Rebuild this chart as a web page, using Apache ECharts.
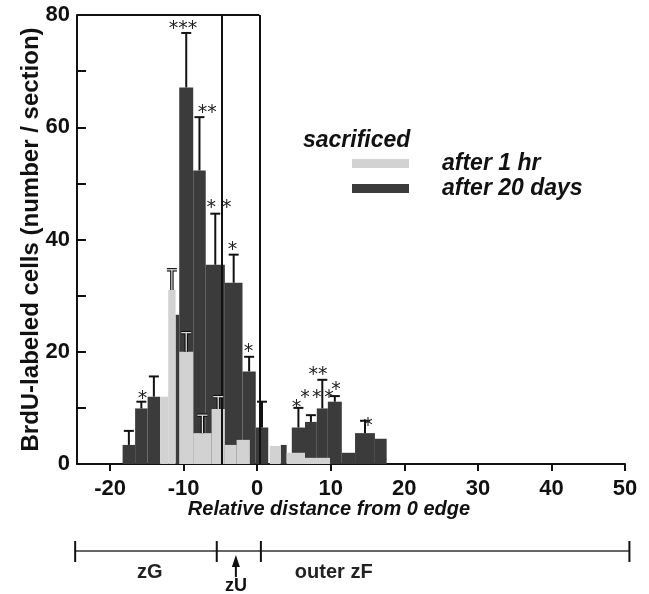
<!DOCTYPE html>
<html>
<head>
<meta charset="utf-8">
<script src="https://cdn.jsdelivr.net/npm/echarts@6/dist/echarts.min.js"></script>
<style>
  html, body { margin: 0; padding: 0; background: #fff; }
  #chart { width: 649px; height: 594px; }
</style>
</head>
<body>
<div id="chart"></div>
<script>
// histogram bins: bin start, bin end, height, error-bar top
const darkStart = [-18.3, -16.6, -14.9, -11.1, -10.6, -8.7, -7.0, -4.4, -2.0, -0.2, 3.2, 4.7, 6.5, 8.1, 9.6, 11.5, 13.3, 16.0];
const darkEnd   = [-16.6, -14.9, -13.2, -10.6, -8.7, -7.0, -4.4, -2.0, -0.2, 1.5, 4.0, 6.5, 8.1, 9.6, 11.5, 13.3, 16.0, 17.6];
const darkVal   = [3.4, 9.9, 12.0, 26.6, 67.1, 52.3, 35.5, 32.3, 16.5, 6.5, 3.4, 6.5, 7.5, 9.9, 11.1, 2.0, 5.5, 4.5];
const darkErr   = [5.9, 11.1, 15.6, null, 76.8, 61.8, 44.6, 37.3, 19.1, 11.1, null, 10.0, 8.7, 15.0, 12.1, null, 7.7, null];

const lightStart = [-13.2, -12.1, -10.6, -8.7, -6.2, -4.4, -2.8, 1.7, 4.0, 6.5];
const lightEnd   = [-12.1, -11.1, -8.7, -6.2, -4.4, -2.8, -1.0, 3.2, 6.5, 9.9];
const lightVal   = [12.0, 31.0, 20.0, 5.5, 9.8, 3.4, 4.3, 3.2, 2.0, 1.1];
const lightErr   = [null, 34.6, 23.4, 8.7, 12.0, null, null, null, null, null];

// significance marks
const starX    = [-10.1, -6.8, -5.2, -3.35, -1.2, -15.6, 5.35, 6.5, 8.1, 9.75, 8.25, 10.7, 15.05];
const starY    = [78.3, 63.5, 46.5, 39.0, 20.9, 12.5, 10.9, 12.7, 12.7, 12.7, 16.8, 14.1, 7.7];
const starText = ['***', '**', '* *', '*', '*', '*', '*', '*', '*', '*', '**', '*', '*'];

const xTicks = [-20, -10, 0, 10, 20, 30, 40, 50];
const boundaryX = [-4.8, 0.3];          // vertical lines in the plot
const zoneEdges = [-24.75, -5.5, 0.5, 50.6];
const zoneNames = ['zG', 'outer zF'];
const zoneNameX = [-14.6, 10.4];
const zUX = -2.9;

const FONT = "'Liberation Sans', Arial, sans-serif";
const DARK = '#3b3b3b';
const LIGHT = '#d2d2d2';

const chart = echarts.init(document.getElementById('chart'));

function bins(s, e, v) { return s.map((x, i) => [x, e[i], v[i]]); }
function errs(s, e, v, err) {
  const out = [];
  s.forEach((x, i) => { if (err[i] != null) out.push([(x + e[i]) / 2, v[i], err[i]]); });
  return out;
}

function renderBar(params, api) {
  const a = api.coord([api.value(0), 0]);
  const b = api.coord([api.value(1), api.value(2)]);
  return {
    type: 'rect',
    shape: { x: a[0], y: b[1], width: b[0] - a[0], height: a[1] - b[1] },
    style: { fill: api.visual('color') }
  };
}

function errRenderer(color, outline) {
  return function (params, api) {
    const lo = api.coord([api.value(0), api.value(1)]);
    const hi = api.coord([api.value(0), api.value(2)]);
    const segs = [[[lo[0], lo[1]], [hi[0], hi[1]]], [[hi[0] - 5, hi[1]], [hi[0] + 5, hi[1]]]];
    const children = [];
    if (outline) segs.forEach(p => children.push({ type: 'polyline', shape: { points: p }, style: { stroke: '#111', lineWidth: 3.5, fill: null } }));
    segs.forEach(p => children.push({ type: 'polyline', shape: { points: p }, style: { stroke: color, lineWidth: outline ? 1.2 : 2, fill: null } }));
    return { type: 'group', children: children };
  };
}

chart.setOption({
  animation: false,
  backgroundColor: '#fff',
  grid: { left: 77, right: 24, top: 15, bottom: 130 },
  legend: {
    data: ['after 1 hr', 'after 20 days'],
    orient: 'vertical',
    left: 352, top: 152,
    itemWidth: 57, itemHeight: 9, itemGap: 2,
    icon: 'rect',
    padding: 0,
    selectedMode: false,
    textStyle: { fontFamily: FONT, fontSize: 23, fontWeight: 'bold', fontStyle: 'italic', color: '#111', padding: [0, 0, 0, 28] }
  },
  xAxis: {
    type: 'value', min: -24.5, max: 50,
    axisLine: { show: true, onZero: false, lineStyle: { color: '#111', width: 2 } },
    axisTick: { show: true, length: 7, customValues: xTicks, lineStyle: { color: '#111', width: 2 } },
    axisLabel: { customValues: xTicks, margin: 14, fontFamily: FONT, fontSize: 22, fontWeight: 'bold', color: '#111' },
    splitLine: { show: false }
  },
  yAxis: {
    type: 'value', min: 0, max: 80, interval: 10,
    name: 'BrdU-labeled cells (number / section)',
    nameLocation: 'middle', nameGap: 34, nameMoveOverlap: false,
    nameTextStyle: { fontFamily: FONT, fontSize: 24, fontWeight: 'bold', color: '#111' },
    axisLine: { show: true, onZero: false, lineStyle: { color: '#111', width: 2 } },
    axisTick: { inside: true, length: 9, lineStyle: { color: '#111', width: 2 } },
    axisLabel: {
      margin: 7, fontFamily: FONT, fontSize: 22, fontWeight: 'bold', color: '#111',
      formatter: v => (v % 20 === 0 ? String(v) : '')
    },
    splitLine: { show: false }
  },
  series: [
    {
      name: 'after 20 days', type: 'custom', renderItem: renderBar,
      itemStyle: { color: DARK },
      encode: { x: [0, 1], y: 2 },
      data: bins(darkStart, darkEnd, darkVal), z: 2
    },
    {
      name: 'err20', type: 'custom', renderItem: errRenderer('#111', false),
      encode: { x: 0, y: [1, 2] },
      data: errs(darkStart, darkEnd, darkVal, darkErr), z: 3
    },
    {
      name: 'after 1 hr', type: 'custom', renderItem: renderBar,
      itemStyle: { color: LIGHT },
      encode: { x: [0, 1], y: 2 },
      data: bins(lightStart, lightEnd, lightVal), z: 4
    },
    {
      name: 'err1', type: 'custom', renderItem: errRenderer('#e8e8e8', true),
      encode: { x: 0, y: [1, 2] },
      data: errs(lightStart, lightEnd, lightVal, lightErr), z: 5,
      markLine: {
        silent: true, symbol: 'none', label: { show: false },
        lineStyle: { color: '#111', width: 2, type: 'solid' },
        data: boundaryX.map(x => ({ xAxis: x })).concat([[{ coord: [-24.5, 80] }, { coord: [boundaryX[1], 80] }]])
      }
    },
    {
      name: 'stars', type: 'custom',
      encode: { x: 0, y: 1 },
      data: starX.map((x, i) => [x, starY[i]]), z: 6,
      renderItem: function (params, api) {
        const p = api.coord([api.value(0), api.value(1)]);
        return {
          type: 'text', x: p[0], y: p[1] + 5,
          style: { text: starText[params.dataIndex], fontFamily: "'DejaVu Sans', sans-serif", fontSize: 19, fill: '#222', align: 'center', verticalAlign: 'middle' }
        };
      }
    }
  ]
});

// annotations below the axis: zone bar and titles
const px = x => chart.convertToPixel({ xAxisIndex: 0 }, x);
const zoneY = 551;
const g = [];
g.push({ type: 'text', x: 303, y: 141, style: { text: 'sacrificed', fontFamily: FONT, fontSize: 23, fontWeight: 'bold', fontStyle: 'italic', fill: '#111', verticalAlign: 'middle' } });
g.push({ type: 'text', x: 329, y: 509, style: { text: 'Relative distance from 0 edge', fontFamily: FONT, fontSize: 20, fontWeight: 'bold', fontStyle: 'italic', fill: '#111', align: 'center', verticalAlign: 'middle' } });
g.push({ type: 'line', shape: { x1: px(zoneEdges[0]), y1: zoneY, x2: px(zoneEdges[3]), y2: zoneY }, style: { stroke: '#333', lineWidth: 1.5 } });
zoneEdges.forEach(z => g.push({ type: 'line', shape: { x1: px(z), y1: zoneY - 10, x2: px(z), y2: zoneY + 11 }, style: { stroke: '#111', lineWidth: 2 } }));
zoneNames.forEach((n, i) => g.push({ type: 'text', x: px(zoneNameX[i]), y: 572, style: { text: n, fontFamily: FONT, fontSize: 20, fontWeight: 'bold', fill: '#222', align: 'center', verticalAlign: 'middle' } }));
const ax = px(zUX);
g.push({ type: 'line', shape: { x1: ax, y1: 562, x2: ax, y2: 577 }, style: { stroke: '#111', lineWidth: 2 } });
g.push({ type: 'polygon', shape: { points: [[ax, 555], [ax - 4, 567], [ax + 4, 567]] }, style: { fill: '#111' } });
g.push({ type: 'text', x: ax, y: 586, style: { text: 'zU', fontFamily: FONT, fontSize: 18, fontWeight: 'bold', fill: '#111', align: 'center', verticalAlign: 'middle' } });
chart.setOption({ graphic: g });
</script>
</body>
</html>
